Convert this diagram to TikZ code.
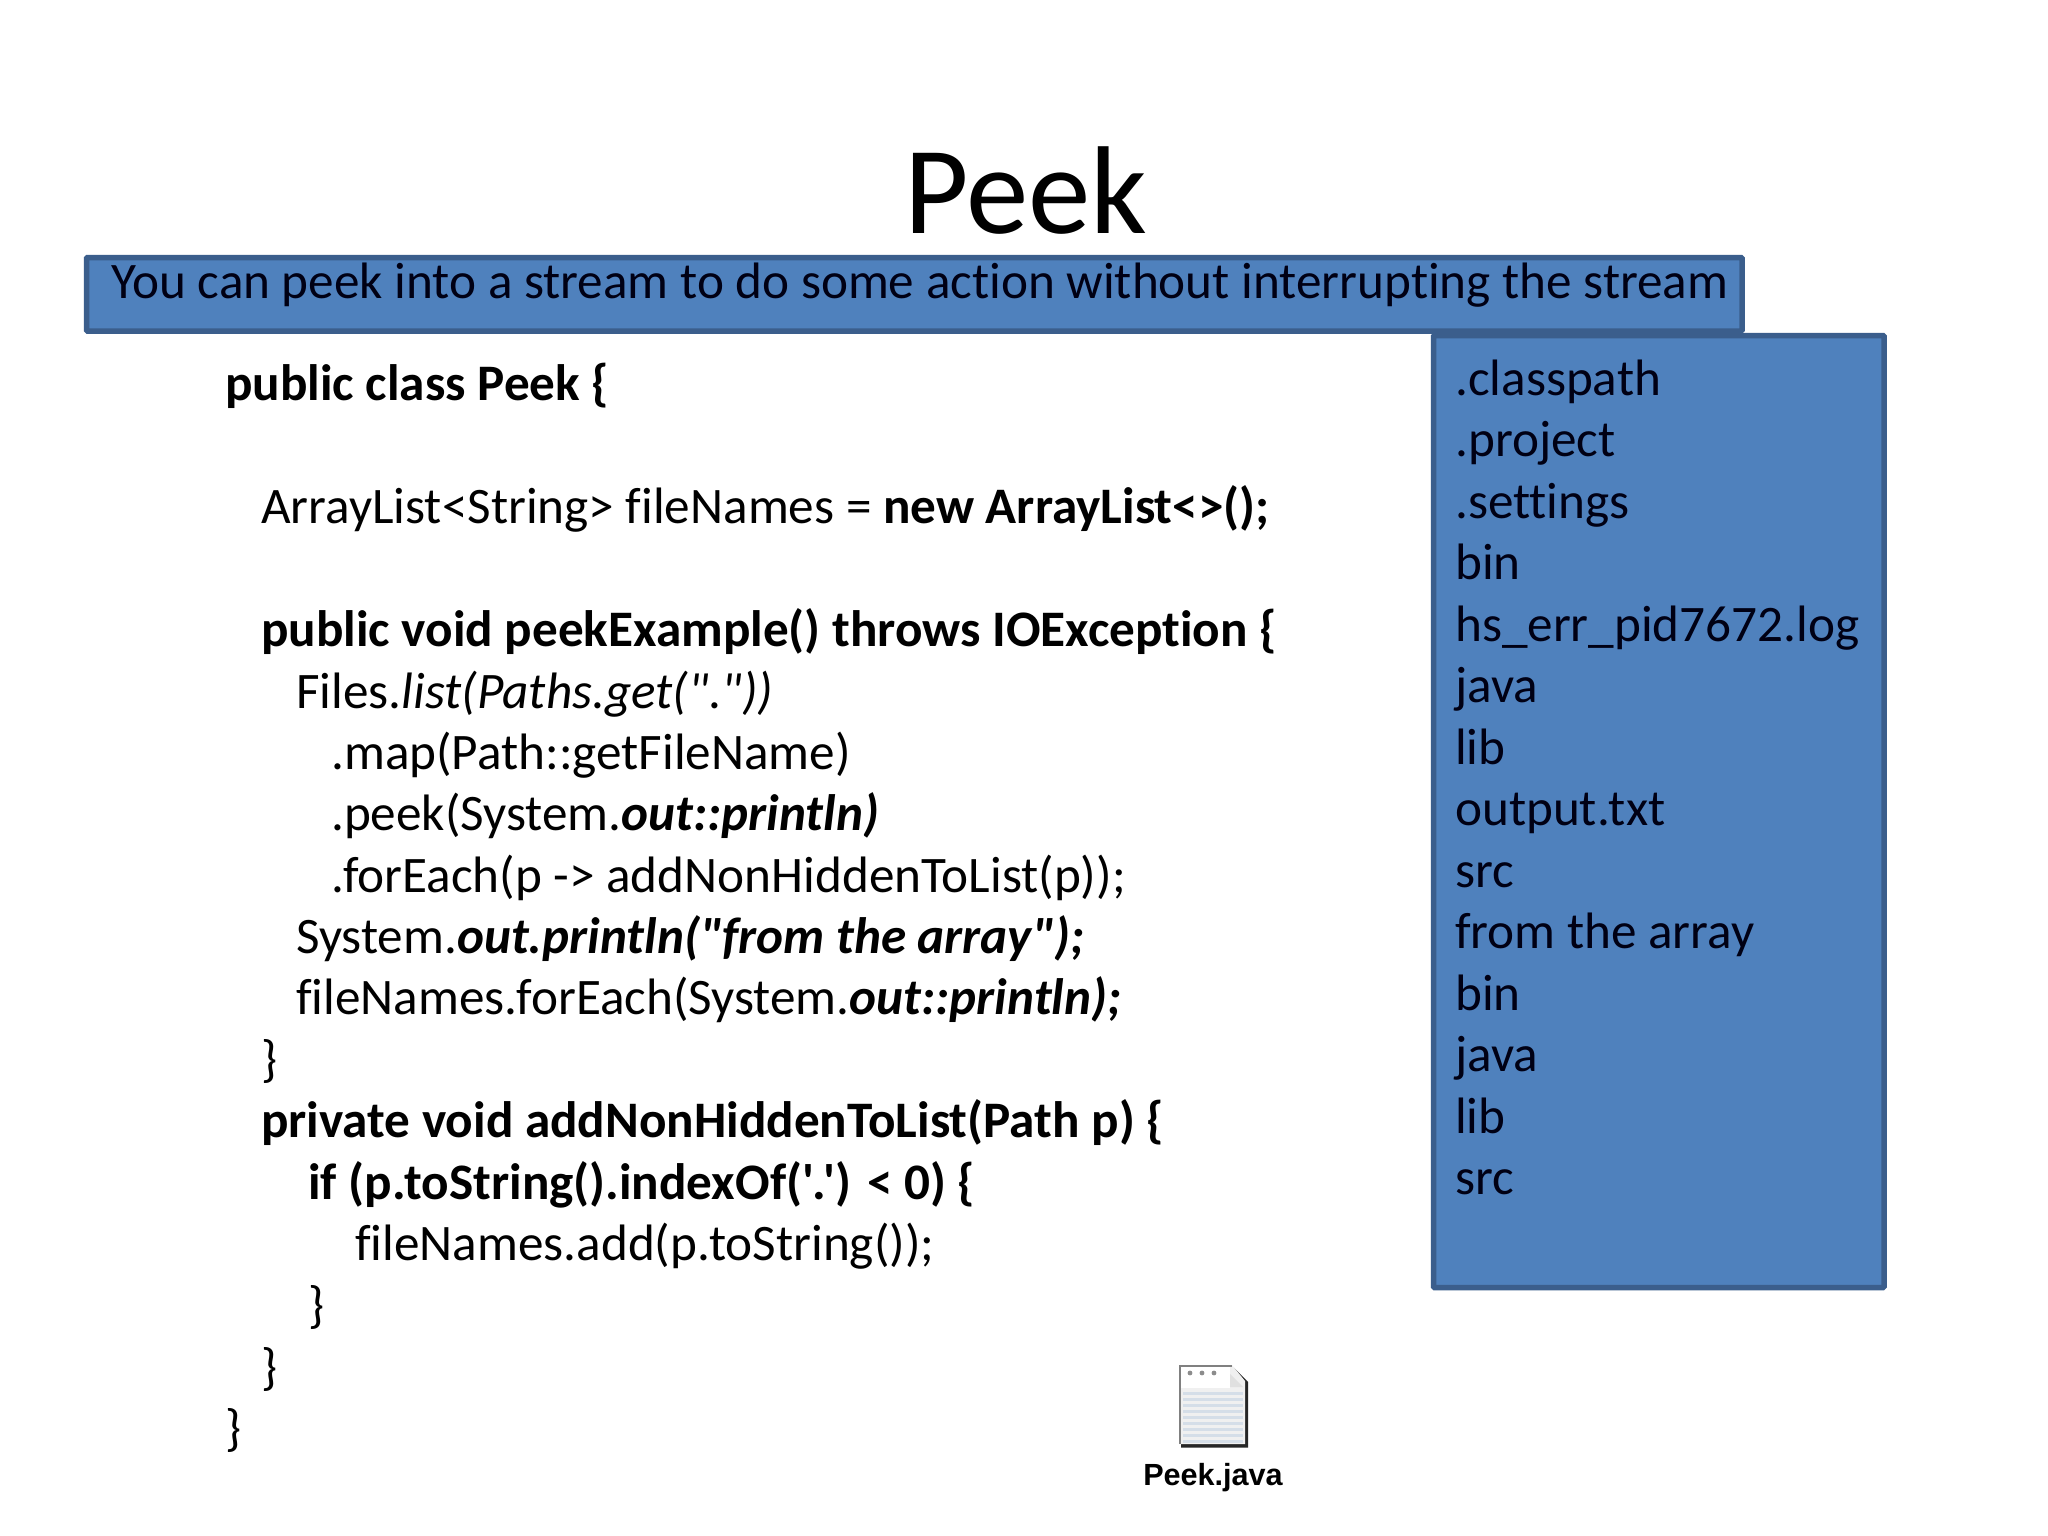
\documentclass[tikz,border=0pt]{standalone}
\usepackage{fontspec}
\newfontfamily\bodyfont[Ligatures=NoCommon]{Carlito}
\newfontfamily\iconfont{Liberation Sans}
\definecolor{boxfill}{HTML}{4F81BD}
\definecolor{boxedge}{HTML}{3B5E8C}
\definecolor{iconline}{HTML}{D5DEE8}
\tikzset{
  panel/.style={draw=boxedge,line width=5.5pt,fill=boxfill,rounded corners=1pt},
  code/.style={anchor=base west,inner sep=0pt,font=\bodyfont\fontsize{51.2}{60}\selectfont,text=black},
  listing/.style={code,text=black!92!blue}
}
\newcommand{\bi}[1]{\textbf{\textit{#1}}}
\begin{document}
\begin{tikzpicture}[x=1pt,y=-1pt]
\useasboundingbox (0,0) rectangle (2048,1536);
\fill[white] (0,0) rectangle (2048,1536);
\node[anchor=base,inner sep=0pt,font=\bodyfont\fontsize{125}{130}\selectfont] (title) at (1026,233) {Peek};
\path[panel] (86.5,257.5) rectangle (1742,331);
\node[listing] (banner) at (111,298) {You can peek into a stream to do some action without interrupting the stream};
\path[panel] (1433.5,335.5) rectangle (1884,1287.5);
\foreach \n/\t [count=\i from 0] in {a/.classpath,b/.project,c/.settings,d/bin,e/hs\_err\_pid7672.log,f/java,g/lib,h/output.txt,i/src,j/from the array,k/bin,l/java,m/lib,o/src}{
  \node[listing] (item\n) at (1455,{395+61.5*\i}) {\t};
}
\node[code] (l1) at (225,400) {\textbf{public class Peek \{}};
\node[code] (l2) at (261,523) {ArrayList<String> fileNames = \textbf{new ArrayList<>();}};
\node[code] (l3) at (261,646) {\textbf{public void peekExample() throws IOException \{}};
\node[code] (l4) at (296,708) {Files.\textit{list(Paths.get("."))}};
\node[code] (l5) at (331,769) {.map(Path::getFileName)};
\node[code] (l6) at (331,830.5) {.peek(System.\bi{out::println)}};
\node[code] (l7) at (331,892) {.forEach(p -> addNonHiddenToList(p));};
\node[code] (l8) at (296,953) {System.\bi{out.println("from the array");}};
\node[code] (l9) at (296,1014) {fileNames.forEach(System.\bi{out::println);}};
\node[code] (l10) at (261,1076) {\}};
\node[code] (l11) at (261,1137.5) {\textbf{private void addNonHiddenToList(Path p) \{}};
\node[code] (l12) at (308,1199) {\textbf{if (p.toString().indexOf('\kern-2pt.\kern-2pt') < 0) \{}};
\node[code] (l13) at (355,1260) {fileNames.add(p.toString());};
\node[code] (l14) at (308,1322) {\}};
\node[code] (l15) at (261,1384) {\}};
\node[code] (l16) at (225,1445) {\}};
% file icon
\fill[black!85] (1181,1367) -- (1233,1367) -- (1248,1382) -- (1248,1447.5) -- (1181,1447.5) -- cycle;
\fill[black!6] (1179,1365) -- (1232,1365) -- (1245,1381) -- (1245,1444) -- (1179,1444) -- cycle;
\fill[black!50] (1179,1365) rectangle (1232,1366.5);
\fill[black!50] (1179,1365) rectangle (1180.5,1444);
\fill[white] (1181,1367) rectangle (1230,1388);
\fill[black!12] (1230,1374) -- (1243,1387) -- (1230,1387) -- cycle;
\foreach \y in {1392,1398,1404,1410,1416,1422,1428,1434,1440}{
  \fill[iconline] (1183,\y) rectangle (1243,\y+2.5);
}
\foreach \x in {1190,1202,1214}{ \fill[black!45] (\x,1373) circle (2.4); }
\node[anchor=base,inner sep=0pt,font=\iconfont\bfseries\fontsize{30.6}{32}\selectfont] (iconlabel) at (1213,1485) {Peek.java};
\end{tikzpicture}
\end{document}
